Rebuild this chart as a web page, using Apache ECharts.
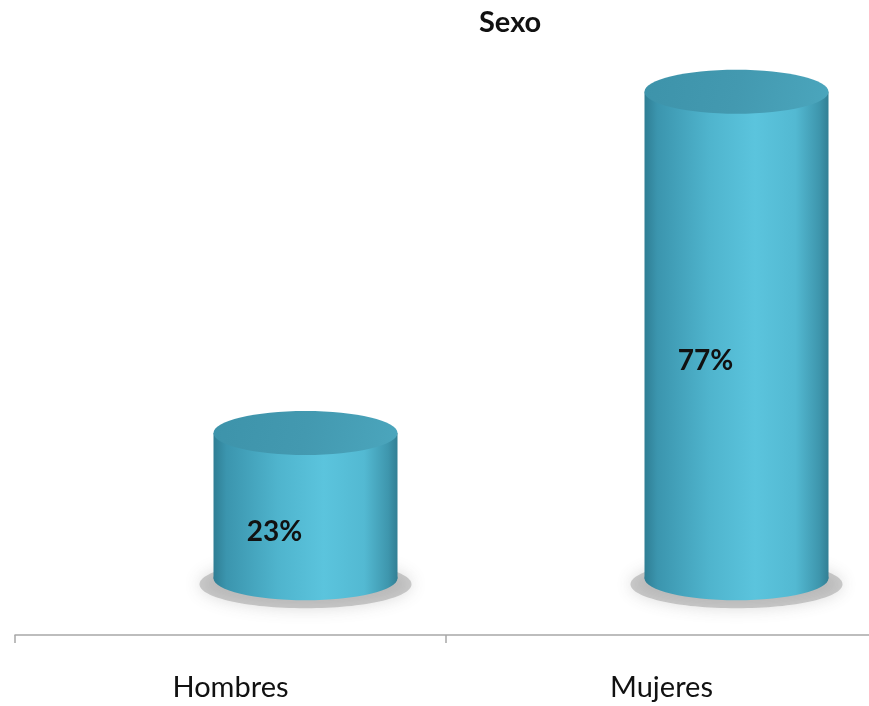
<!DOCTYPE html>
<html><head><meta charset="utf-8">
<script src="https://cdn.jsdelivr.net/npm/echarts@6/dist/echarts.min.js"></script>
<style>html,body{margin:0;padding:0;background:#fff}#c{width:869px;height:706px}</style>
</head><body><div id="c"></div>
<script>
var titleText = 'Sexo';
var categories = ['Hombres', 'Mujeres'];
var values = [23, 77];
var valueLabels = ['23%', '77%'];

var chart = echarts.init(document.getElementById('c'));
var RX = 92, RY = 22, SHIFT = 75;
function bodyGrad(){
  return new echarts.graphic.LinearGradient(0,0,1,0,[
    {offset:0,color:'#2f7e94'},{offset:0.07,color:'#3b95ae'},{offset:0.35,color:'#4fb4cd'},
    {offset:0.6,color:'#5bc4dd'},{offset:0.82,color:'#53b9d2'},{offset:0.95,color:'#3e96ad'},{offset:1,color:'#327f94'}]);
}
function topGrad(){
  return new echarts.graphic.LinearGradient(0,0,1,1,[
    {offset:0,color:'#3d93aa'},{offset:0.5,color:'#4399b0'},{offset:1,color:'#4ba6bd'}]);
}
chart.setOption({
  animation:false,
  title:{text:titleText,left:474,top:3,textStyle:{fontFamily:'Lato',fontWeight:'bold',fontSize:29,color:'#111'}},
  grid:{left:15,right:-8,top:35,bottom:71,containLabel:false,outerBoundsMode:'none'},
  xAxis:{type:'category',data:categories,boundaryGap:true,
    axisLine:{onZero:false,lineStyle:{color:'#a8a8a8',width:1.5}},
    axisTick:{show:true,length:8,lineStyle:{color:'#a8a8a8',width:1.5}},
    axisLabel:{margin:38,fontFamily:'Lato',fontSize:29,color:'#111'}},
  yAxis:{type:'value',min:-9,max:86,show:false,splitLine:{show:false}},
  series:[{
    type:'custom',
    data:values.map(function(v,i){return [i,v];}),
    renderItem:function(params,api){
      var i=api.value(0), v=api.value(1);
      var base=api.coord([i,0]), top=api.coord([i,v]);
      var cx=base[0]+SHIFT, by=base[1], ty=top[1];
      return {type:'group',children:[
        {type:'ellipse',shape:{cx:cx,cy:by+6,rx:RX+14,ry:RY+2},style:{fill:'rgba(120,120,120,0.35)',shadowBlur:16,shadowColor:'rgba(80,80,80,0.6)'}},
        {type:'ellipse',shape:{cx:cx,cy:by,rx:RX,ry:RY},style:{fill:bodyGrad()}},
        {type:'rect',shape:{x:cx-RX,y:ty,width:2*RX,height:by-ty},style:{fill:bodyGrad()}},
        {type:'ellipse',shape:{cx:cx,cy:ty,rx:RX,ry:RY},style:{fill:topGrad()}},
        {type:'text',x:cx-31,y:(ty+by)/2+26,style:{text:valueLabels[params.dataIndex],fontFamily:'Lato',fontWeight:'bold',fontSize:28,fill:'#111',align:'center',verticalAlign:'middle'}}
      ]};
    }
  }]
});
</script></body></html>
